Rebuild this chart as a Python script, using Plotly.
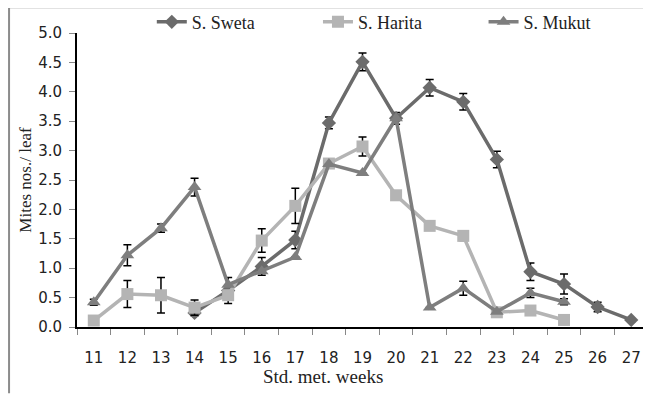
import plotly.graph_objects as go

weeks = [str(w) for w in range(11, 28)]

sweta = [None, None, None, 0.24, 0.62, 1.03, 1.48, 3.47, 4.51, 3.55, 4.07, 3.83, 2.85, 0.94, 0.73, 0.34, 0.12]
sweta_err = [0, 0, 0, 0.05, 0.22, 0.15, 0.15, 0.10, 0.15, 0.10, 0.14, 0.14, 0.14, 0.15, 0.17, 0.08, 0.03]

harita = [0.11, 0.56, 0.54, 0.33, 0.54, 1.47, 2.06, 2.78, 3.07, 2.24, 1.72, 1.55, 0.25, 0.28, 0.12, None, None]
harita_err = [0, 0.23, 0.30, 0.13, 0, 0.20, 0.30, 0, 0.16, 0, 0, 0.08, 0, 0, 0, 0, 0]

mukut = [0.42, 1.22, 1.68, 2.38, 0.72, 0.95, 1.19, 2.77, 2.62, 3.55, 0.33, 0.66, 0.26, 0.58, 0.43, None, None]
mukut_err = [0.05, 0.18, 0.07, 0.15, 0, 0, 0, 0, 0, 0, 0, 0.12, 0, 0.08, 0.05, 0, 0]

names = ["S. Sweta", "S. Harita", "S. Mukut"]
colors = ["#6b6b6b", "#b4b4b4", "#7e7e7e"]
symbols = ["diamond", "square", "triangle-up"]
sizes = [11, 12, 12]
series = [sweta, harita, mukut]
errors = [sweta_err, harita_err, mukut_err]
legends = ["legend", "legend2", "legend3"]

fig = go.Figure()
for name, col, sym, sz, ys, er, lg in zip(names, colors, symbols, sizes, series, errors, legends):
    fig.add_trace(go.Scatter(
        x=weeks, y=ys, name=name, mode="lines+markers",
        line=dict(color=col, width=3.5),
        marker=dict(symbol=sym, size=sz, color=col),
        error_y=dict(type="data", array=er, visible=True, color="black", thickness=1.5, width=4),
        legend=lg, connectgaps=False,
    ))

legfont = dict(family="Liberation Serif", size=18, color="#222222")
leg_common = dict(orientation="h", yanchor="middle", y=1.037, xanchor="left",
                  font=legfont, bgcolor="rgba(0,0,0,0)", borderwidth=0)

fig.update_layout(
    width=643, height=388,
    margin=dict(l=69, r=3, t=25, b=69, autoexpand=False),
    paper_bgcolor="white", plot_bgcolor="white",
    showlegend=True,
    legend=dict(x=0.131, **leg_common),
    legend2=dict(x=0.422, **leg_common),
    legend3=dict(x=0.712, **leg_common),
    xaxis=dict(
        type="category", range=[-0.5, 16.5], automargin=False,
        showline=True, linecolor="black", linewidth=2,
        ticks="outside", tickson="boundaries", ticklen=6, tickcolor="#888888", tickwidth=1,
        showgrid=False, zeroline=False,
        tickfont=dict(family="DejaVu Sans", size=15, color="#222222"),
        ticklabelstandoff=16,
    ),
    yaxis=dict(
        range=[0, 5], dtick=0.5, tickformat=".1f", automargin=False,
        showline=True, linecolor="black", linewidth=2,
        ticks="outside", ticklen=6, tickcolor="#888888", tickwidth=1,
        showgrid=False, zeroline=False,
        tickfont=dict(family="DejaVu Sans", size=15, color="#222222"),
        ticklabelstandoff=4,
        title=dict(text="Mites nos./ leaf", font=dict(family="Liberation Serif", size=17, color="#222222"), standoff=2),
    ),
)

fig.add_annotation(text="Std. met. weeks", xref="paper", yref="paper", x=0.431, y=-0.170,
                   xanchor="center", yanchor="middle", showarrow=False,
                   font=dict(family="Liberation Serif", size=19, color="#222222"))

# outer frame (top and left edges)
fig.add_shape(type="line", xref="paper", yref="paper", x0=-0.119, x1=1.004, y0=1.088, y1=1.088,
              line=dict(color="#8c8c8c", width=2))
fig.add_shape(type="line", xref="paper", yref="paper", x0=-0.119, x1=-0.119, y0=1.088, y1=-0.225,
              line=dict(color="#8c8c8c", width=2))

fig.write_html("out.html")
